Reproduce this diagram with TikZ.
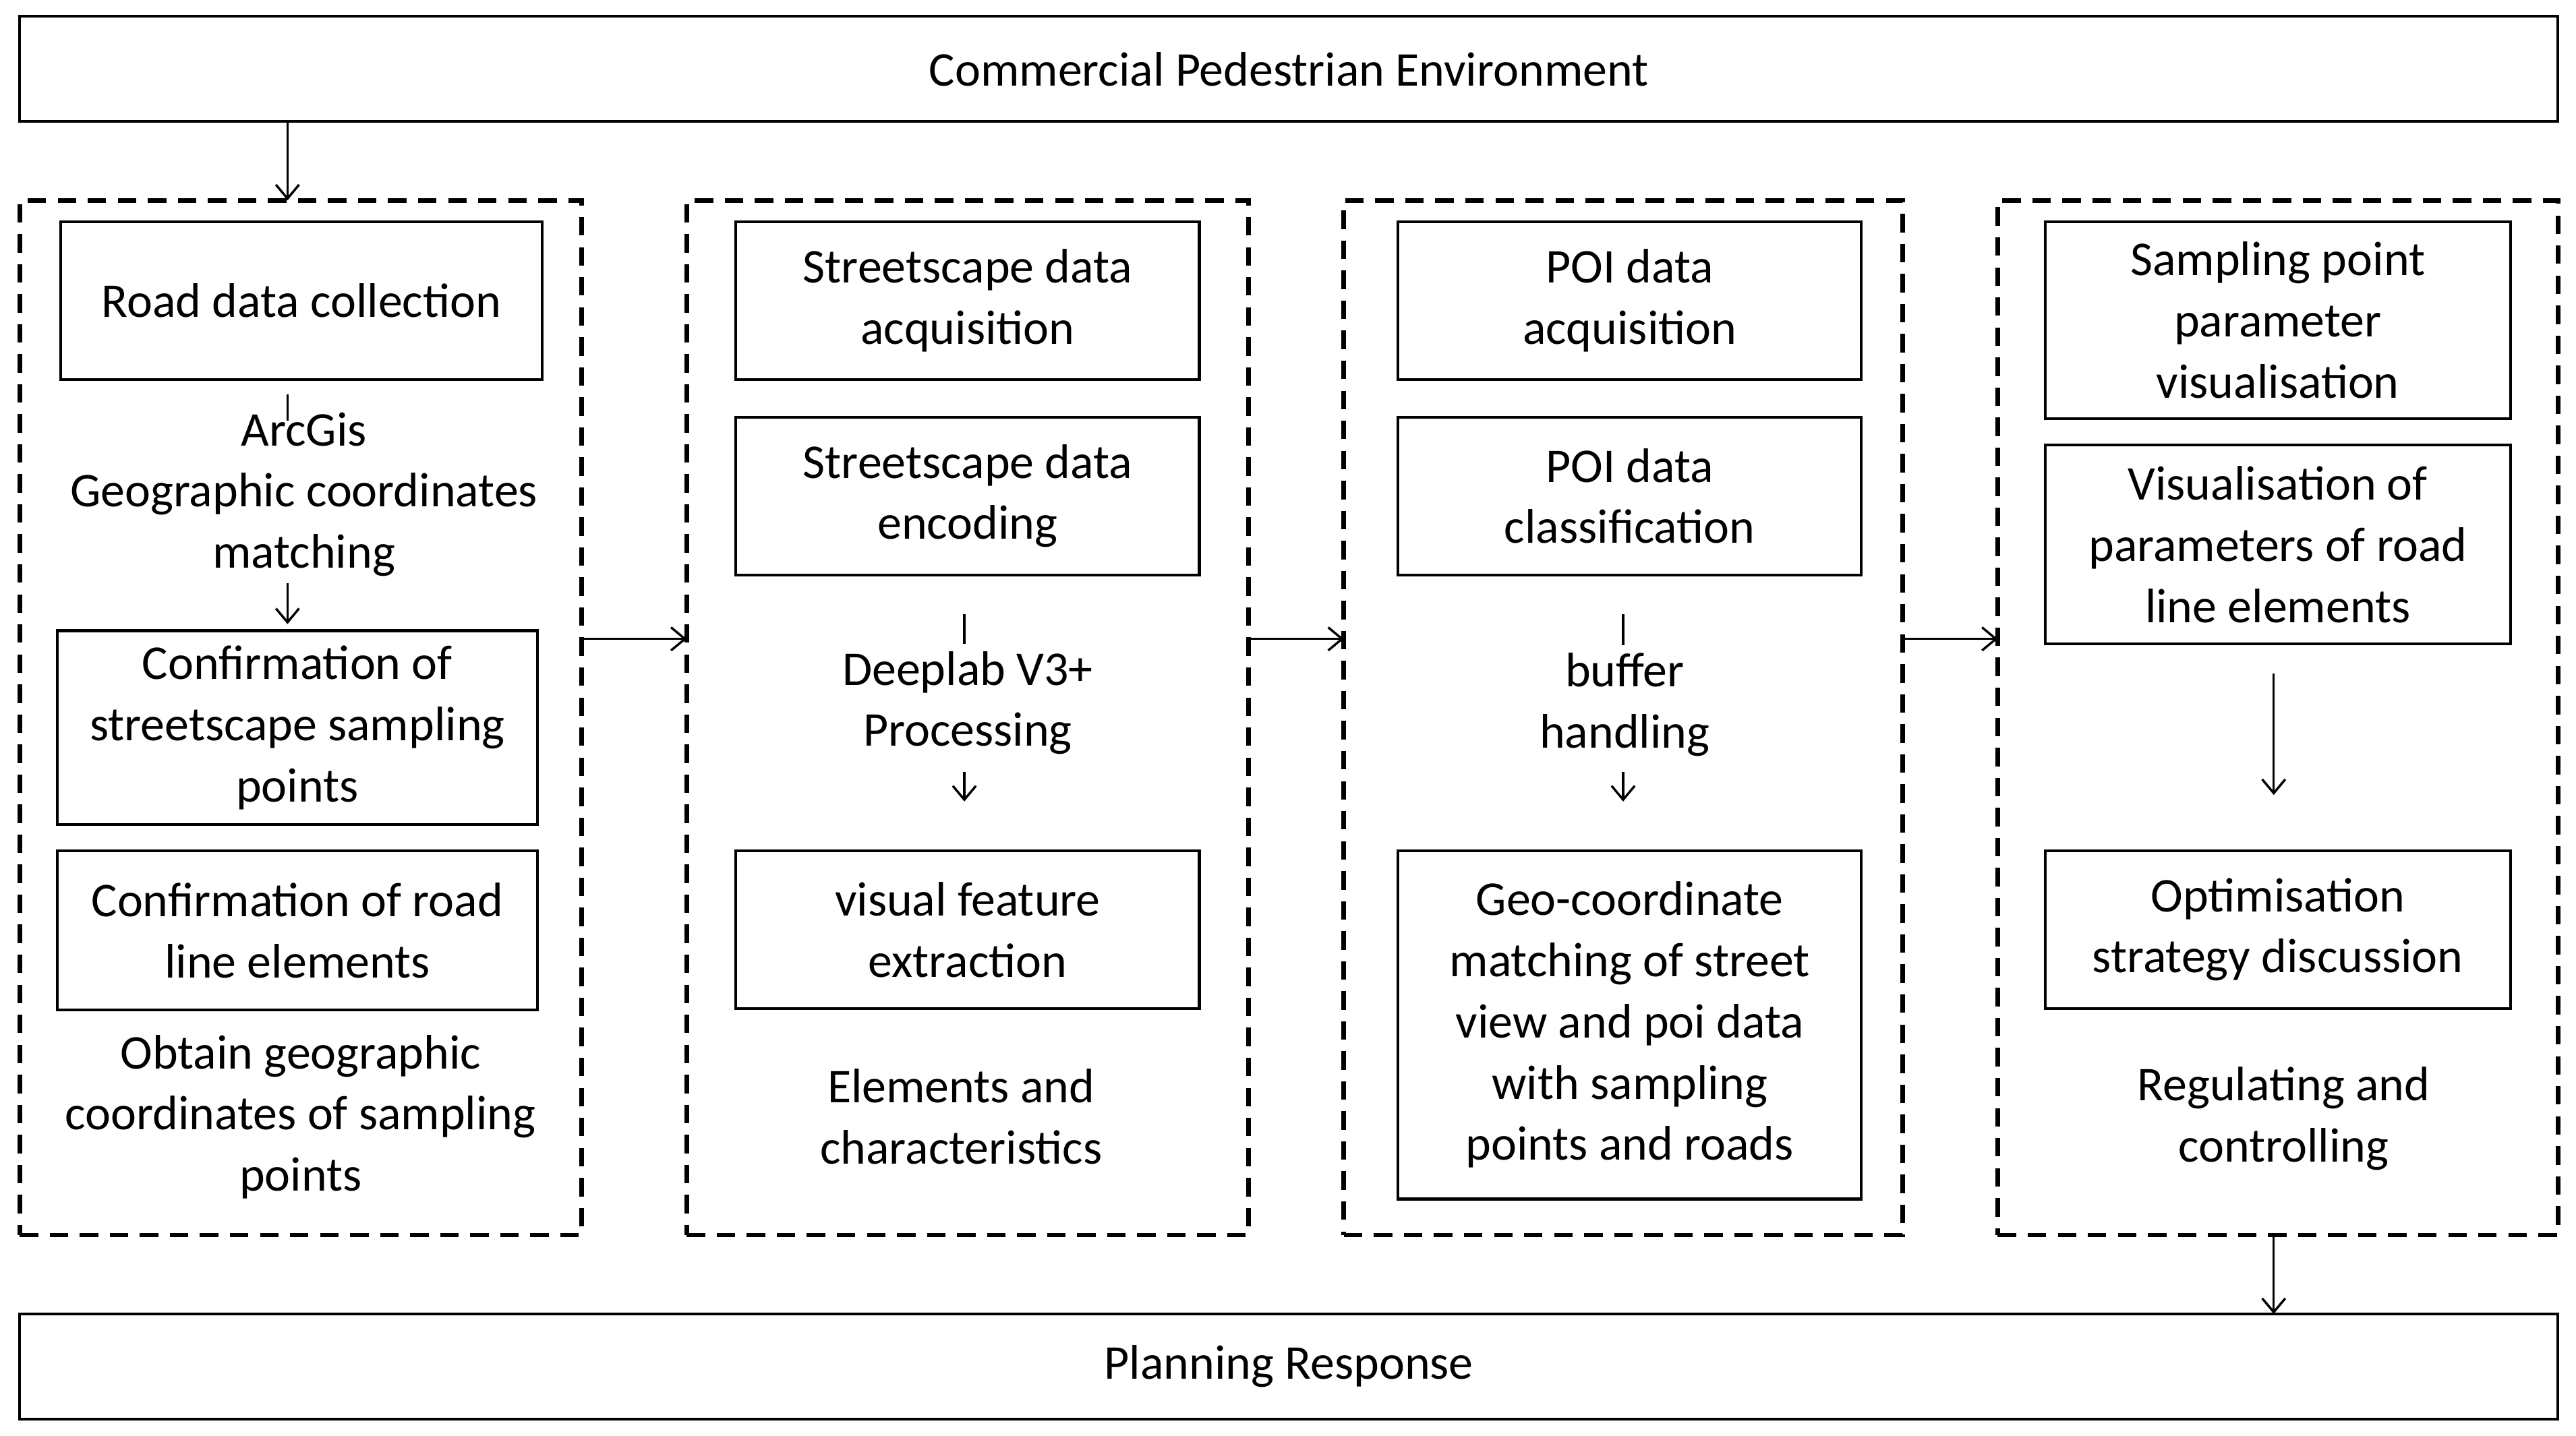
\documentclass[tikz,border=0pt]{standalone}
\usepackage{fontspec}
\setmainfont{Carlito}
\usetikzlibrary{arrows.meta}
\begin{document}
\begin{tikzpicture}[x=0.025cm,y=-0.025cm,
  every node/.style={font=\fontsize{21}{26.5}\selectfont,align=center,inner sep=0pt},
  bx/.style={draw,line width=1.2pt},
  dashbox/.style={draw,line width=2pt,dash pattern=on 8pt off 5pt},
  arr/.style={-{Straight Barb[length=6pt,width=10pt]},line width=1pt},
  tick/.style={line width=1pt}]
\useasboundingbox (0,0) rectangle (1568,874);
\newcommand\bx[6]{\node[bx,minimum width={(#4-#2)*0.025cm},minimum height={(#5-#3)*0.025cm}] (#1) at ({(#2+#4)/2},{(#3+#5)/2}) {#6};}
\newcommand\dbx[5]{\node[dashbox,minimum width={(#4-#2)*0.025cm},minimum height={(#5-#3)*0.025cm}] (#1) at ({(#2+#4)/2},{(#3+#5)/2}) {};}
\bx{top}{12}{10}{1557}{74}{Commercial Pedestrian Environment}
\bx{bot}{12}{800}{1557}{864}{Planning Response}
\dbx{p1}{12}{122}{354}{752}
\dbx{p2}{418}{122}{760}{752}
\dbx{p3}{818}{122}{1158}{752}
\dbx{p4}{1216}{122}{1557}{752}
\coordinate (t1) at (175,74); \coordinate (t2) at (175,122);
\draw[arr] (t1) -- (t2);
\coordinate (b1) at (1384,752); \coordinate (b2) at (1384,800);
\draw[arr] (b1) -- (b2);
\draw[arr] (354,389) -- (418,389);
\draw[arr] (760,389) -- (818,389);
\draw[arr] (1158,389) -- (1216,389);
% panel 1
\bx{a1}{37}{135}{330}{231}{Road data collection}
\node (a2) at (185,301) {ArcGis\\Geographic coordinates\\matching};
\draw[tick] (175,240) -- (175,256);
\draw[arr] (175,355) -- (175,380);
\bx{a3}{35}{384}{327}{502}{Confirmation of\\streetscape sampling\\points}
\bx{a4}{35}{518}{327}{615}{Confirmation of road\\line elements}
\node (a5) at (183,680) {Obtain geographic\\coordinates of sampling\\points};
% panel 2
\bx{b1x}{448}{135}{730}{231}{Streetscape data\\acquisition}
\bx{b2x}{448}{254}{730}{350}{Streetscape data\\encoding}
\draw[tick] (587,374) -- (587,392);
\node (b3x) at (589,428) {Deeplab V3+\\Processing};
\draw[arr] (587,470) -- (587,488);
\bx{b4x}{448}{518}{730}{614}{visual feature\\extraction}
\node (b5x) at (585,680) {Elements and\\characteristics};
% panel 3
\bx{c1}{851}{135}{1133}{231}{POI data\\acquisition}
\bx{c2}{851}{254}{1133}{350}{POI data\\classification}
\draw[tick] (988,374) -- (988,393);
\node (c3) at (989,429) {buffer\\handling};
\draw[arr] (988,470) -- (988,488);
\bx{c4}{851}{518}{1133}{730}{Geo-coordinate\\matching of street\\view and poi data\\with sampling\\points and roads}
% panel 4
\bx{d1}{1245}{135}{1528}{255}{Sampling point\\parameter\\visualisation}
\bx{d2}{1245}{271}{1528}{392}{Visualisation of\\parameters of road\\line elements}
\draw[arr] (1384,410) -- (1384,484);
\bx{d3}{1245}{518}{1528}{614}{Optimisation\\strategy discussion}
\node (d4) at (1390,681) {Regulating and\\controlling};
\end{tikzpicture}
\end{document}
